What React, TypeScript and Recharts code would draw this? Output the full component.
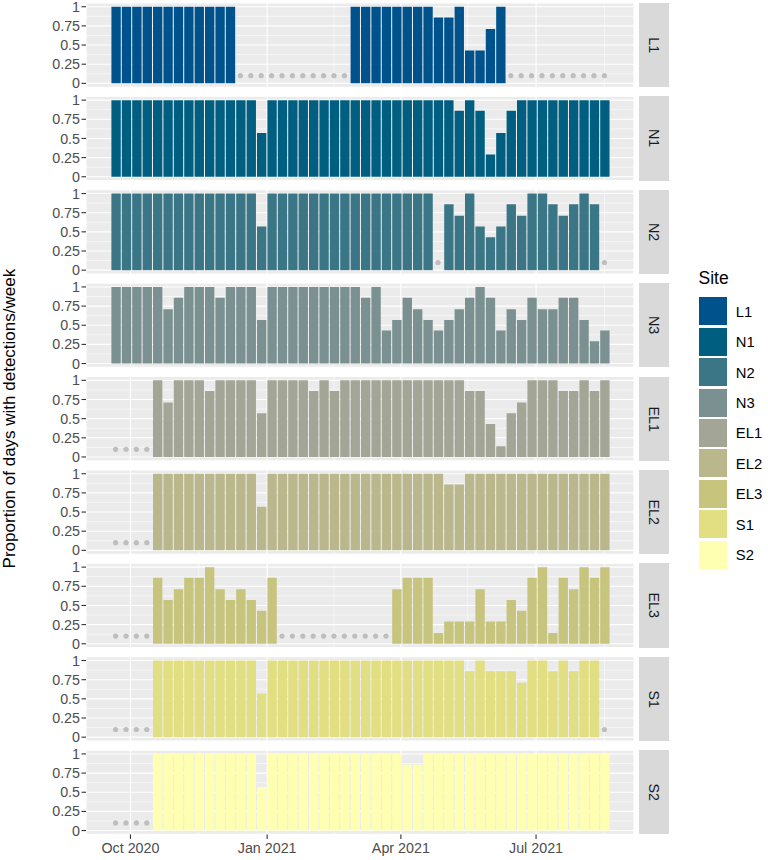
import React from 'react';
import { ComposedChart, Bar, Scatter, XAxis, YAxis, CartesianGrid } from 'recharts';

// weekly bins (week start dates)
const weeks = [
  '2020-09-21', '2020-09-28', '2020-10-05', '2020-10-12', '2020-10-19', '2020-10-26',
  '2020-11-02', '2020-11-09', '2020-11-16', '2020-11-23', '2020-11-30', '2020-12-07',
  '2020-12-14', '2020-12-21', '2020-12-28', '2021-01-04', '2021-01-11', '2021-01-18',
  '2021-01-25', '2021-02-01', '2021-02-08', '2021-02-15', '2021-02-22', '2021-03-01',
  '2021-03-08', '2021-03-15', '2021-03-22', '2021-03-29', '2021-04-05', '2021-04-12',
  '2021-04-19', '2021-04-26', '2021-05-03', '2021-05-10', '2021-05-17', '2021-05-24',
  '2021-05-31', '2021-06-07', '2021-06-14', '2021-06-21', '2021-06-28', '2021-07-05',
  '2021-07-12', '2021-07-19', '2021-07-26', '2021-08-02', '2021-08-09', '2021-08-16',
];

const n = null;

const L1 = [
  1, 1, 1, 1, 1, 1, 1, 1,
  1, 1, 1, 1, n, n, n, n,
  n, n, n, n, n, n, n, 1,
  1, 1, 1, 1, 1, 1, 1, 0.86,
  0.86, 1, 0.43, 0.43, 0.71, 1, n, n,
  n, n, n, n, n, n, n, n,
];
const N1 = [
  1, 1, 1, 1, 1, 1, 1, 1,
  1, 1, 1, 1, 1, 1, 0.57, 1,
  1, 1, 1, 1, 1, 1, 1, 1,
  1, 1, 1, 1, 1, 1, 1, 1,
  1, 0.86, 1, 0.86, 0.29, 0.57, 0.86, 1,
  1, 1, 1, 1, 1, 1, 1, 1,
];
const N2 = [
  1, 1, 1, 1, 1, 1, 1, 1,
  1, 1, 1, 1, 1, 1, 0.57, 1,
  1, 1, 1, 1, 1, 1, 1, 1,
  1, 1, 1, 1, 1, 1, 1, n,
  0.86, 0.71, 1, 0.57, 0.43, 0.57, 0.86, 0.71,
  1, 1, 0.86, 0.71, 0.86, 1, 0.86, n,
];
const N3 = [
  1, 1, 1, 1, 1, 0.71, 0.86, 1,
  1, 1, 0.86, 1, 1, 1, 0.57, 1,
  1, 1, 1, 1, 1, 1, 1, 1,
  0.86, 1, 0.43, 0.57, 0.86, 0.71, 0.57, 0.43,
  0.57, 0.71, 0.86, 1, 0.86, 0.43, 0.71, 0.57,
  0.86, 0.71, 0.71, 0.86, 0.86, 0.57, 0.29, 0.43,
];
const EL1 = [
  n, n, n, n, 1, 0.71, 1, 1,
  1, 0.86, 1, 1, 1, 1, 0.57, 1,
  1, 1, 1, 0.86, 1, 0.86, 1, 1,
  1, 1, 1, 1, 1, 1, 1, 1,
  1, 1, 0.86, 0.86, 0.43, 0.14, 0.57, 0.71,
  1, 1, 1, 0.86, 0.86, 1, 0.86, 1,
];
const EL2 = [
  n, n, n, n, 1, 1, 1, 1,
  1, 1, 1, 1, 1, 1, 0.57, 1,
  1, 1, 1, 1, 1, 1, 1, 1,
  1, 1, 1, 1, 1, 1, 1, 1,
  0.86, 0.86, 1, 1, 1, 1, 1, 1,
  1, 1, 1, 1, 1, 1, 1, 1,
];
const EL3 = [
  n, n, n, n, 0.86, 0.57, 0.71, 0.86,
  0.86, 1, 0.71, 0.57, 0.71, 0.57, 0.43, 0.86,
  n, n, n, n, n, n, n, n,
  n, n, n, 0.71, 0.86, 0.86, 0.86, 0.14,
  0.29, 0.29, 0.29, 0.71, 0.29, 0.29, 0.57, 0.43,
  0.86, 1, 0.14, 0.86, 0.71, 1, 0.86, 1,
];
const S1 = [
  n, n, n, n, 1, 1, 1, 1,
  1, 1, 1, 1, 1, 1, 0.57, 1,
  1, 1, 1, 1, 1, 1, 1, 1,
  1, 1, 1, 1, 1, 1, 1, 1,
  1, 1, 0.86, 1, 0.86, 0.86, 0.86, 0.71,
  1, 1, 0.86, 1, 0.86, 1, 1, n,
];
const S2 = [
  n, n, n, n, 1, 1, 1, 1,
  1, 1, 1, 1, 1, 1, 0.57, 1,
  1, 1, 1, 1, 1, 1, 1, 1,
  1, 1, 1, 1, 0.86, 0.86, 1, 1,
  1, 1, 1, 1, 1, 1, 1, 1,
  1, 1, 1, 1, 1, 1, 1, 1,
];

const sites = ['L1', 'N1', 'N2', 'N3', 'EL1', 'EL2', 'EL3', 'S1', 'S2'];
const series = [L1, N1, N2, N3, EL1, EL2, EL3, S1, S2];
const siteColors = [
  '#00528C', '#005F80', '#3A7685', '#7A9091', '#A3A696',
  '#B9B78B', '#C7C57D', '#E1DF81', '#FFFFB2',
];

// weeks with no recording are marked with a grey dot at this level
const naLevel = 0.1;

const yTicks = [0, 0.25, 0.5, 0.75, 1];
const yMinor = [0.125, 0.375, 0.625, 0.875];
const xTickDates = ['2020-10-01', '2021-01-01', '2021-04-01', '2021-07-01'];
const xTickLabels = ['Oct 2020', 'Jan 2021', 'Apr 2021', 'Jul 2021'];
const xMinorDates = ['2020-11-16', '2021-02-15', '2021-05-16', '2021-08-16'];

const origin = Date.UTC(2020, 9, 1);
const toDay = (s: string) => {
  const [y, m, d] = s.split('-').map(Number);
  return (Date.UTC(y, m - 1, d) - origin) / 86400000;
};
const weekDays = weeks.map(toDay);
const xTicks = xTickDates.map(toDay);
const xMinor = xMinorDates.map(toDay);

// ggplot-like x range: bar width 0.9 week, 5% expansion
const halfBar = 0.45 * 7;
const rawLo = weekDays[0] - halfBar;
const rawHi = weekDays[weekDays.length - 1] + halfBar;
const pad = 0.05 * (rawHi - rawLo);
const xLo = rawLo - pad;
const xHi = rawHi + pad;

// layout
const plotLeft = 86;
const plotRight = 634;
const panelTop0 = 2.9;
const panelH = 84.3;
const panelStep = 93.4;
const xAxisH = 28;
const slack = 10;
const barPx = ((plotRight - plotLeft) * 0.9 * 7) / (xHi - xLo);

const font = '"Liberation Sans", Arial, Helvetica, sans-serif';

const NaDot = (p: any) => <circle cx={p.cx} cy={p.cy} r={2.6} fill="#BEBEBE" />;

const Panel = ({ idx }: { idx: number }) => {
  const vals = series[idx];
  const data = weekDays.map((d, i) => ({ day: d, value: vals[i] }));
  const naData = weekDays
    .map((d, i) => ({ day: d, na: naLevel, missing: vals[i] === null }))
    .filter((p) => p.missing);
  const last = idx === sites.length - 1;
  const top = panelTop0 + idx * panelStep;
  const divTop = Math.max(0, Math.floor(top) - slack);
  const mTop = top - divTop;
  const mBottom = last ? 0 : slack;
  return (
    <>
      <div style={{ position: 'absolute', left: 0, top: divTop }}>
        <ComposedChart
          width={plotRight + 2}
          height={mTop + panelH + mBottom + (last ? xAxisH : 0)}
          data={data}
          margin={{ top: mTop, right: 2, bottom: mBottom, left: 0 }}
        >
          <CartesianGrid fill="#EBEBEB" fillOpacity={1} stroke="#FFFFFF" strokeWidth={1.1} />
          <CartesianGrid
            stroke="#FFFFFF"
            strokeWidth={0.55}
            horizontalValues={yMinor}
            verticalValues={xMinor}
          />
          <XAxis
            type="number"
            dataKey="day"
            domain={[xLo, xHi]}
            ticks={xTicks}
            interval={0}
            allowDataOverflow
            hide={!last}
            height={xAxisH}
            axisLine={false}
            tickLine={{ stroke: '#333333', strokeWidth: 1.1 }}
            tickSize={4.5}
            tickMargin={4}
            tick={{ fill: '#4D4D4D', fontSize: 14.3 }}
            tickFormatter={(v: number) => xTickLabels[xTicks.indexOf(v)]}
          />
          <YAxis
            type="number"
            domain={[-0.05, 1.05]}
            ticks={yTicks}
            interval={0}
            allowDataOverflow
            width={plotLeft}
            axisLine={false}
            tickLine={{ stroke: '#333333', strokeWidth: 1.1 }}
            tickSize={4.5}
            tickMargin={1.5}
            tick={{ fill: '#4D4D4D', fontSize: 14.3 }}
          />
          <Bar dataKey="value" fill={siteColors[idx]} barSize={barPx} isAnimationActive={false} />
          <Scatter data={naData} dataKey="na" shape={NaDot} isAnimationActive={false} />
        </ComposedChart>
      </div>
      <div
        style={{
          position: 'absolute',
          left: 639.3,
          top,
          width: 29.7,
          height: panelH,
          background: '#D9D9D9',
          display: 'flex',
          alignItems: 'center',
          justifyContent: 'center',
        }}
      >
        <span style={{ transform: 'rotate(90deg)', color: '#1A1A1A', fontSize: 14.3, lineHeight: 1, whiteSpace: 'nowrap' }}>
          {sites[idx]}
        </span>
      </div>
    </>
  );
};

export default function App() {
  return (
    <div
      style={{
        position: 'absolute',
        left: 0,
        top: 0,
        width: 768,
        height: 860,
        background: '#FFFFFF',
        fontFamily: font,
        overflow: 'hidden',
      }}
    >
      {sites.map((s, i) => (
        <Panel key={s} idx={i} />
      ))}

      <svg width={30} height={860} style={{ position: 'absolute', left: 0, top: 0 }}>
        <text
          transform="rotate(-90)"
          x={-418.6}
          y={15}
          textAnchor="middle"
          fontSize={17}
          fill="#000000"
          fontFamily={font}
        >
          Proportion of days with detections/week
        </text>
      </svg>

      <div
        style={{
          position: 'absolute',
          left: 698.5,
          top: 270,
          fontSize: 17.5,
          lineHeight: 1,
          color: '#000000',
        }}
      >
        Site
      </div>
      {sites.map((s, i) => (
        <div
          key={s}
          style={{
            position: 'absolute',
            left: 699.3,
            top: 297.3 + i * 30.4,
            height: 28,
            display: 'flex',
            alignItems: 'center',
          }}
        >
          <div style={{ width: 27.5, height: 28, background: siteColors[i] }} />
          <span style={{ marginLeft: 9, fontSize: 14.8, lineHeight: 1, color: '#000000', paddingTop: 2 }}>{s}</span>
        </div>
      ))}
    </div>
  );
}
